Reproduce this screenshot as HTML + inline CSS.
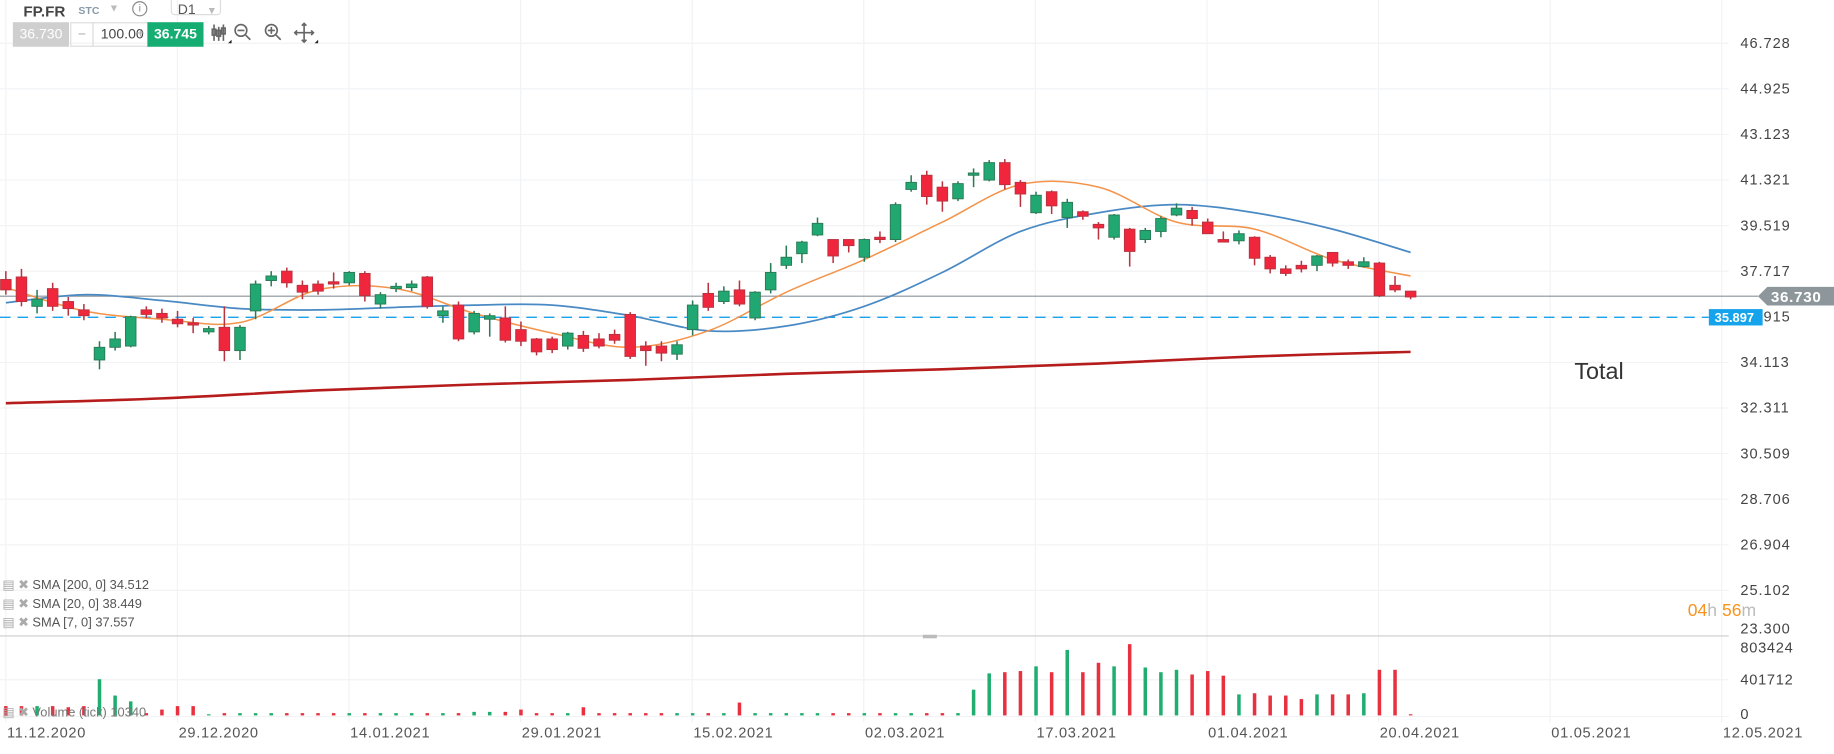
<!DOCTYPE html>
<html><head><meta charset="utf-8"><style>
html,body{margin:0;padding:0;background:#fff;overflow:hidden;width:1834px;height:754px}
#wrap{position:absolute;left:0;top:0;width:1568px;height:645px;transform:scale(1.16964,1.16899);transform-origin:0 0;font-family:"Liberation Sans",sans-serif}
.tb{position:absolute;font-size:12px}
</style></head><body>
<div id="wrap">
<svg id="chart" width="1568" height="645" style="position:absolute;left:0;top:0"></svg>
<div class="tb" style="left:20px;top:2px;font-weight:bold;font-size:13px;color:#444">FP.FR</div>
<div class="tb" style="left:67px;top:4px;font-size:9px;font-weight:bold;color:#8a9aa8">STC</div>
<div class="tb" style="left:93px;top:2px;font-size:9px;color:#bbb">▼</div>
<div class="tb" style="left:113px;top:1px;width:11px;height:11px;border:1.5px solid #888;border-radius:50%;font-size:9px;line-height:11px;text-align:center;color:#888">i</div>
<div class="tb" style="left:146px;top:-4px;width:43px;height:17px;border:1px solid #ddd;border-radius:3px;font-size:12px;color:#555;line-height:22px;padding-left:5px;box-sizing:border-box">D1 <span style="color:#bbb;font-size:9px;margin-left:6px">▼</span></div>
<div class="tb" style="left:11px;top:19px;width:48px;height:21px;background:#cfcfcf;color:#fff;font-size:12px;line-height:21px;text-align:center">36.730</div>
<div class="tb" style="left:60px;top:19px;width:18px;height:19px;border:1px solid #ddd;color:#aaa;line-height:19px;text-align:center">−</div>
<div class="tb" style="left:79px;top:19px;width:49px;height:19px;border:1px solid #ddd;color:#444;line-height:19px;text-align:center">100.00</div>
<div class="tb" style="top:19px;width:16px;height:19px;color:#aaa;line-height:19px;text-align:center;left:112px">+</div>
<div class="tb" style="left:126px;top:19px;width:48px;height:21px;background:#16ad73;color:#fff;font-size:12px;font-weight:bold;line-height:21px;text-align:center">36.745</div>
<svg class="tb" style="left:176px;top:17px" width="100" height="22">
<g stroke="#666" stroke-width="1.4" fill="none">
<path d="M7 4v14M11 6v12M15 4v14"/><rect x="5.5" y="8" width="3" height="5"/><rect x="9.5" y="9" width="3" height="5"/><rect x="13.5" y="7" width="3" height="5"/>
<circle cx="30" cy="9" r="5"/><path d="M27 9h6M34 13l4 4"/>
<circle cx="56" cy="9" r="5"/><path d="M53 9h6M56 6v6M60 13l4 4"/>
<path d="M84 3v16M76 11h16M82 5l2-2 2 2M82 17l2 2 2-2M78 9l-2 2 2 2M90 9l2 2-2 2"/>
</g><path d="M19 20l3-3v3z M93 20l3-3v3z" fill="#222"/></svg>
<div class="tb" style="left:1346px;top:307px;font-size:20px;color:#333">Total</div>
<div class="tb" style="left:1443px;top:514px;font-size:15px;color:#f7931e">04<span style="color:#bbb">h</span> 56<span style="color:#bbb">m</span></div>
<div class="tb" style="left:2px;top:494px;font-size:11px;color:#555"><span style="color:#aaa">▤ ✖</span> SMA [200, 0] 34.512</div>
<div class="tb" style="left:2px;top:510px;font-size:11px;color:#555"><span style="color:#aaa">▤ ✖</span> SMA [20, 0] 38.449</div>
<div class="tb" style="left:2px;top:526px;font-size:11px;color:#555"><span style="color:#aaa">▤ ✖</span> SMA [7, 0] 37.557</div>
<div class="tb" style="left:2px;top:603px;font-size:11px;color:#777"><span style="color:#aaa">▤ ✖</span> Volume (tick) 10340</div>
</div>
<script>
const opens=[37.39,37.49,36.33,37.03,36.52,36.19,34.21,34.71,34.76,36.19,36.05,35.82,35.68,35.32,35.50,34.58,36.15,37.35,37.72,37.16,37.21,37.30,37.26,37.63,36.42,37.03,37.07,37.49,35.96,36.38,35.32,35.82,35.87,35.41,35.04,35.04,34.76,35.18,35.04,35.22,36.01,34.76,34.76,34.44,35.41,36.84,36.52,36.98,35.87,36.98,37.95,38.41,39.15,38.97,38.97,38.27,39.06,38.97,40.95,41.51,41.04,40.58,41.51,41.32,42.01,41.23,40.03,40.86,39.84,40.07,39.57,39.06,39.38,38.97,39.29,39.94,40.12,39.66,38.97,38.92,39.06,38.27,37.81,37.95,37.95,38.46,38.09,37.90,38.04,37.16,36.93];
const highs=[37.72,37.81,36.98,37.26,36.70,36.42,34.95,35.32,35.96,36.33,36.24,36.15,35.87,35.55,36.33,35.59,37.35,37.72,37.86,37.35,37.35,37.67,37.72,37.72,36.89,37.26,37.35,37.53,36.33,36.52,36.15,36.05,36.33,35.73,35.08,35.13,35.32,35.36,35.27,35.41,36.10,34.95,34.95,34.95,36.56,37.26,37.12,37.35,36.93,38.04,38.73,38.92,39.84,38.97,38.97,39.01,39.29,40.44,41.51,41.69,41.27,41.27,41.78,42.11,42.15,41.32,40.86,40.91,40.58,40.12,39.66,39.98,39.43,39.43,39.89,40.40,40.26,39.80,39.29,39.33,39.10,38.36,37.95,38.13,38.36,38.46,38.18,38.27,38.09,37.53,36.93];
const lows=[36.79,36.33,36.05,36.15,35.96,35.78,33.84,34.58,34.71,35.87,35.68,35.50,35.27,35.22,34.16,34.21,35.82,37.12,37.07,36.61,36.79,37.03,37.16,36.52,36.24,36.89,36.93,36.24,35.68,34.95,35.22,35.13,34.90,34.76,34.39,34.48,34.62,34.53,34.67,34.85,34.25,33.98,34.16,34.21,35.18,36.15,36.42,36.33,35.78,36.84,37.81,38.04,39.10,38.04,38.46,38.09,38.83,38.87,40.86,40.35,40.07,40.49,41.04,41.27,40.95,40.26,39.98,39.98,39.43,39.75,38.97,38.97,37.90,38.83,39.06,39.89,39.52,39.20,38.87,38.78,37.95,37.63,37.53,37.67,37.72,37.90,37.81,37.86,36.70,36.89,36.61];
const closes=[36.98,36.52,36.61,36.33,36.24,35.96,34.71,35.04,35.92,36.01,35.87,35.64,35.59,35.45,34.58,35.50,37.21,37.53,37.26,36.89,36.93,37.21,37.67,36.75,36.79,37.12,37.21,36.33,36.15,35.04,36.05,35.96,34.99,34.95,34.53,34.62,35.27,34.67,34.76,34.99,34.35,34.58,34.48,34.81,36.38,36.29,36.93,36.42,36.89,37.67,38.27,38.87,39.61,38.32,38.73,38.97,38.97,40.35,41.23,40.67,40.49,41.18,41.60,42.01,41.14,40.77,40.72,40.30,40.44,39.89,39.43,39.94,38.50,39.33,39.80,40.21,39.80,39.20,38.87,39.20,38.23,37.81,37.63,37.81,38.32,38.04,37.95,38.09,36.75,36.98,36.70];
const volumes=[105000,105000,105000,105000,92000,105000,408000,224000,158000,26000,66000,105000,105000,13000,26000,26000,26000,26000,26000,26000,26000,26000,26000,26000,26000,26000,26000,26000,26000,26000,40000,40000,40000,66000,26000,26000,26000,92000,26000,26000,26000,26000,26000,26000,26000,26000,26000,145000,26000,26000,26000,26000,26000,26000,26000,26000,26000,26000,26000,26000,26000,26000,290000,474000,487000,500000,553000,487000,738000,487000,593000,553000,803000,540000,487000,514000,461000,500000,448000,237000,250000,224000,224000,184000,237000,237000,237000,250000,514000,514000,13000];
const sma200=[32.50,32.69,33.01,33.24,33.42,33.66,33.84,34.07,34.35,34.53];
const sma20=[36.47,36.79,36.56,36.24,36.19,36.29,36.38,36.38,35.96,35.36,35.55,36.33,37.67,39.29,40.03,40.35,40.03,39.38,38.46];
const sma7=[37.07,36.15,35.82,35.69,36.98,37.03,36.05,35.27,34.71,35.36,36.89,38.18,39.66,41.14,41.04,39.66,39.38,38.18,37.53];
const priceTicks=["46.728","44.925","43.123","41.321","39.519","37.717","35.915","34.113","32.311","30.509","28.706","26.904","25.102","23.300"];
const dateLabels=["11.12.2020","29.12.2020","14.01.2021","29.01.2021","15.02.2021","02.03.2021","17.03.2021","01.04.2021","20.04.2021","01.05.2021","12.05.2021"];
const volTicks=["803424","401712","0"];
const lastPrice=36.730, alertPrice=35.897, volMax=803424;

const NS="http://www.w3.org/2000/svg";
const svg=document.getElementById('chart');
const X0=5, STEP=13.345;
const xB=i=>X0+STEP*i;
const yP=p=>37+(46.728-p)/1.802*39;
const yV=v=>612-v/volMax*61;
function mk(tag,attrs,parent){const e=document.createElementNS(NS,tag);for(const k in attrs)e.setAttribute(k,attrs[k]);(parent||svg).appendChild(e);return e;}

dateLabels.forEach((d,k)=>{const x=5+146.7*k;
 const g=mk('line',{x1:x,x2:x,y1:0,y2:618,stroke:'#f1f2f4','stroke-width':1});
 
 
 const t=mk('text',{x:x+1,y:631,'font-size':12.5,fill:'#555','font-family':'Liberation Sans','letter-spacing':'0.6'});t.textContent=d;
 
 
});
priceTicks.forEach(s=>{const p=parseFloat(s);const y=yP(p);
 if(p>23.4){const g=mk('line',{x1:0,x2:1478,y1:y,y2:y,stroke:'#f2f3f5','stroke-width':1});
 
 }
 const t=mk('text',{x:1488,y:(p<23.4?y-2:y+4),'font-size':12.5,fill:'#444','font-family':'Liberation Sans','letter-spacing':'0.8'});t.textContent=s;
 
 
});
let sep=mk('line',{x1:0,x2:1478,y1:544,y2:544,stroke:'#ccc','stroke-width':1});


let hdl=mk('rect',{x:789,y:543,width:12,height:3,fill:'#bbb'});


volTicks.forEach(s=>{const v=parseFloat(s);const y=yV(v);
 if(v>0&&v<volMax){const g=mk('line',{x1:0,x2:1478,y1:y,y2:y,stroke:'#f2f3f5'});}
 if(v===0){const g=mk('line',{x1:0,x2:1478,y1:y+1,y2:y+1,stroke:'#f2f3f5'});}
 const t=mk('text',{x:1488,y:y+4+(v===volMax?3:0)+(v===0?-1:0),'font-size':12.5,fill:'#444','font-family':'Liberation Sans','letter-spacing':'0.6'});t.textContent=s;
 
 
});
let al=mk('line',{x1:0,x2:1461,y1:yP(alertPrice),y2:yP(alertPrice),stroke:'#1aa3ec','stroke-width':1.2,'stroke-dasharray':'9,6'});


let alb=mk('rect',{x:1461,y:yP(alertPrice)-7,width:46,height:14,fill:'#15a4ec'});


let alt=mk('text',{x:1466,y:yP(alertPrice)+4,'font-size':11,fill:'#fff','font-weight':'bold','font-family':'Liberation Sans'});alt.textContent=alertPrice.toFixed(3);


let lp=mk('line',{x1:0,x2:1503,y1:yP(lastPrice),y2:yP(lastPrice),stroke:'#8a9296','stroke-width':1});


const ly=yP(lastPrice);
let lpb=mk('path',{d:`M1503 ${ly} L1511 ${ly-8} H1568 V${ly+8} H1511 Z`,fill:'#8d979b'});


let lpt=mk('text',{x:1514,y:ly+5,'font-size':13,fill:'#fff','font-weight':'bold','font-family':'Liberation Sans','letter-spacing':'0.6'});lpt.textContent=lastPrice.toFixed(3);



volumes.forEach((v,i)=>{const up=closes[i]>=opens[i];
 const r=mk('rect',{x:xB(i)-1.5,y:yV(v),width:3,height:612-yV(v),fill:up?'#1fae6f':'#e8303f'});
 
 
});
function line(vals,step,color,w,name){
 const pts=vals.map((v,k)=>[xB(k*step),yP(v)]);
 let d='M'+pts[0][0].toFixed(1)+' '+pts[0][1].toFixed(1);
 for(let k=0;k<pts.length-1;k++){
  const p0=pts[Math.max(k-1,0)],p1=pts[k],p2=pts[k+1],p3=pts[Math.min(k+2,pts.length-1)];
  const c1=[p1[0]+(p2[0]-p0[0])/6,p1[1]+(p2[1]-p0[1])/6];
  const c2=[p2[0]-(p3[0]-p1[0])/6,p2[1]-(p3[1]-p1[1])/6];
  d+=` C${c1[0].toFixed(1)} ${c1[1].toFixed(1)} ${c2[0].toFixed(1)} ${c2[1].toFixed(1)} ${p2[0].toFixed(1)} ${p2[1].toFixed(1)}`;
 }
 const p=mk('path',{d:d,stroke:color,'stroke-width':w,fill:'none','stroke-linejoin':'round'});
 
 }
line(sma200,10,'#b71c1c',2.2,'sma200-line');
line(sma20,5,'#4a8ac4',1.5,'sma20-line');
line(sma7,5,'#f4934a',1.3,'sma7-line');
opens.forEach((o,i)=>{const c=closes[i];const up=c>=o;const col=up?'#21a872':'#f0273c';const x=xB(i);
 const g=mk('g',{});
 
 
 mk('line',{x1:x,x2:x,y1:yP(highs[i]),y2:yP(lows[i]),stroke:up?'#2a7a55':'#b8323f','stroke-width':1.3},g);
 const t=yP(Math.max(o,c)),b=yP(Math.min(o,c));
 mk('rect',{x:x-4.5,y:t,width:9,height:Math.max(b-t,1.5),fill:col,stroke:up?'#2a7a55':'#b8323f','stroke-width':0.8},g);
});
</script>
</body></html>
